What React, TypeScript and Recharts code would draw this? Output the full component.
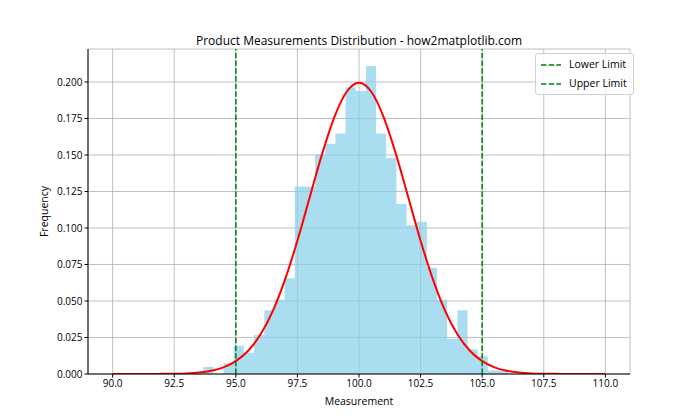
import {
  Area,
  CartesianGrid,
  ComposedChart,
  Label,
  Line,
  ReferenceLine,
  XAxis,
  YAxis,
} from "recharts";

// histogram bin edges (30 bins) and density height of each bin
const binEdges = [
  93.68, 94.093, 94.505, 94.918, 95.33, 95.743, 96.155, 96.568, 96.98, 97.393,
  97.805, 98.218, 98.63, 99.043, 99.455, 99.868, 100.28, 100.693, 101.105, 101.518,
  101.93, 102.343, 102.755, 103.168, 103.58, 103.993, 104.405, 104.818, 105.23, 105.643,
  106.055,
];
const binDensity = [
  0.0048, 0, 0.0073, 0.0194, 0.0145, 0.0267, 0.0436, 0.0509, 0.0655, 0.1285,
  0.1285, 0.1503, 0.1576, 0.1648, 0.1964, 0.1939, 0.2109, 0.1648, 0.1479, 0.1164,
  0.1018, 0.1042, 0.0727, 0.0509, 0.0242, 0.0436, 0.017, 0.0121, 0.0024, 0.0024,
];

// fitted normal curve, read at 0.5 steps
const curveX = [
  90, 90.5, 91, 91.5, 92, 92.5, 93, 93.5, 94, 94.5, 95, 95.5, 96, 96.5, 97, 97.5, 98,
  98.5, 99, 99.5, 100, 100.5, 101, 101.5, 102, 102.5, 103, 103.5, 104, 104.5, 105,
  105.5, 106, 106.5, 107, 107.5, 108, 108.5, 109, 109.5, 110,
];
const curveY = [
  0, 0, 0, 0, 0.0001, 0.0002, 0.0004, 0.001, 0.0022, 0.0045, 0.0088, 0.0159, 0.027,
  0.0431, 0.0648, 0.0913, 0.121, 0.1506, 0.176, 0.1933, 0.1995, 0.1933, 0.176, 0.1506,
  0.121, 0.0913, 0.0648, 0.0431, 0.027, 0.0159, 0.0088, 0.0045, 0.0022, 0.001, 0.0004,
  0.0002, 0.0001, 0, 0, 0, 0,
];

const lowerLimit = 95;
const upperLimit = 105;
const legendLabels = ["Lower Limit", "Upper Limit"];

const xTicks = [90, 92.5, 95, 97.5, 100, 102.5, 105, 107.5, 110];
const yTicks = [0, 0.025, 0.05, 0.075, 0.1, 0.125, 0.15, 0.175, 0.2];

const histData = binEdges.map((x, i) => ({ x, y: binDensity[i] ?? 0 }));
const curveData = curveX.map((x, i) => ({ x, y: curveY[i] }));

const font = "'Open Sans', 'Noto Sans', sans-serif";
const tickStyle = { fill: "#000", fontSize: 10 };

function LimitsLegend() {
  return (
    <div
      style={{
        position: "absolute",
        left: 535,
        top: 53,
        background: "rgba(255,255,255,0.8)",
        border: "1px solid #d0d0d0",
        borderRadius: 3,
        padding: "1px 6px 1px 5px",
        fontSize: 10.5,
        lineHeight: "19px",
      }}
    >
      {legendLabels.map((name) => (
        <div key={name} style={{ display: "flex", alignItems: "center" }}>
          <svg width={20} height={6} style={{ marginRight: 8 }}>
            <line x1={0} y1={3} x2={20} y2={3} stroke="#008000" strokeWidth={1.5} strokeDasharray="5.4 2.3" />
          </svg>
          <span>{name}</span>
        </div>
      ))}
    </div>
  );
}

export default function App() {
  return (
    <div style={{ position: "absolute", left: 0, top: 0, width: 700, height: 420, fontFamily: font, background: "#fff" }}>
      <div
        style={{
          position: "absolute",
          left: 88,
          width: 542,
          top: 32,
          textAlign: "center",
          fontSize: 12,
          color: "#000",
        }}
      >
        Product Measurements Distribution - how2matplotlib.com
      </div>
      <ComposedChart width={700} height={420} margin={{ top: 49, right: 70, bottom: 0, left: 0 }}>
        <XAxis
          dataKey="x"
          type="number"
          domain={[89, 111]}
          ticks={xTicks}
          tickFormatter={(v: number) => v.toFixed(1)}
          tick={tickStyle}
          tickSize={3.5}
          tickLine={{ stroke: "#000" }}
          axisLine={{ stroke: "#000" }}
          height={46}
          allowDataOverflow
        >
          <Label value="Measurement" position="insideBottom" offset={15} style={{ fill: "#000", fontSize: 10.5 }} />
        </XAxis>
        <XAxis
          xAxisId="top"
          orientation="top"
          type="number"
          domain={[89, 111]}
          height={0}
          tick={false}
          tickLine={false}
          axisLine={{ stroke: "#000" }}
        />
        <YAxis
          type="number"
          domain={[0, 0.2226]}
          ticks={yTicks}
          tickFormatter={(v: number) => v.toFixed(3)}
          tick={tickStyle}
          tickSize={3.5}
          tickLine={{ stroke: "#000" }}
          axisLine={{ stroke: "#000" }}
          width={88}
          allowDataOverflow
        >
          <Label value="Frequency" angle={-90} position="insideLeft" offset={44} style={{ fill: "#000", fontSize: 10.5, textAnchor: "middle" }} />
        </YAxis>
        <YAxis
          yAxisId="right"
          orientation="right"
          type="number"
          domain={[0, 0.2226]}
          width={0}
          tick={false}
          tickLine={false}
          axisLine={{ stroke: "#000" }}
        />
        <Area
          data={histData}
          dataKey="y"
          type="stepAfter"
          fill="#87CEEB"
          fillOpacity={0.7}
          stroke="none"
          isAnimationActive={false}
        />
        <CartesianGrid stroke="#b0b0b0" strokeWidth={0.8} />
        <Line
          data={curveData}
          dataKey="y"
          type="monotone"
          stroke="#ff0000"
          strokeWidth={2}
          dot={false}
          activeDot={false}
          isAnimationActive={false}
        />
        <ReferenceLine x={lowerLimit} stroke="#008000" strokeWidth={1.5} strokeDasharray="5.4 2.3" />
        <ReferenceLine x={upperLimit} stroke="#008000" strokeWidth={1.5} strokeDasharray="5.4 2.3" />
      </ComposedChart>
      <LimitsLegend />
    </div>
  );
}
